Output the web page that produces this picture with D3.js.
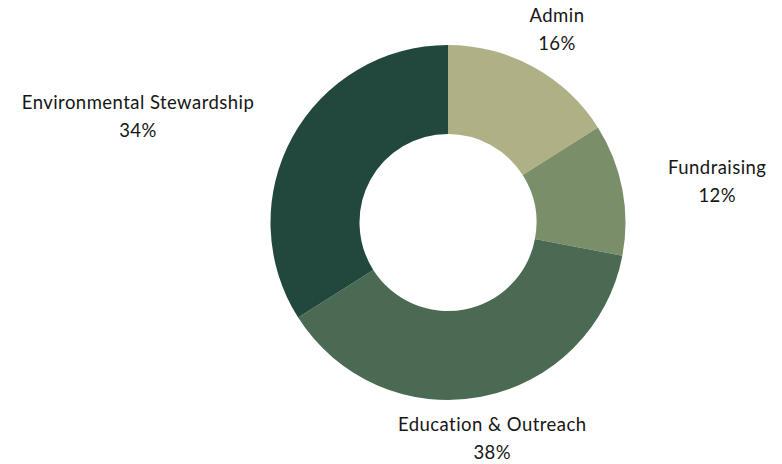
<!DOCTYPE html>
<html>
<head>
<meta charset="utf-8">
<script src="https://cdn.jsdelivr.net/npm/d3@7"></script>
<style>
  html, body { margin: 0; padding: 0; background: #ffffff; }
  svg { display: block; }
  text { font-family: "Lato", "Open Sans", sans-serif; fill: #161616; }
</style>
</head>
<body>
<svg id="chart" width="782" height="464"></svg>
<script>
const categories = ["Admin", "Fundraising", "Education & Outreach", "Environmental Stewardship"];
const values = [16, 12, 38, 34];
const colors = ["#b0b087", "#7b8e6a", "#4b6a53", "#22473d"];

const width = 782, height = 464;
const cx = 448, cy = 222.5;
const outerR = 177.5, innerR = 88.5, labelR = 220;

const svg = d3.select("#chart");
const g = svg.append("g").attr("transform", `translate(${cx},${cy})`);

const data = categories.map((c, i) => ({ name: c, value: values[i], color: colors[i] }));
const pie = d3.pie().value(d => d.value).sort(null);
const arc = d3.arc().innerRadius(innerR).outerRadius(outerR);
const arcs = pie(data);

g.selectAll("path.slice")
  .data(arcs)
  .join("path")
  .attr("class", "slice")
  .attr("d", arc)
  .attr("fill", d => d.data.color);

const total = d3.sum(values);
const fmt = v => Math.round(v / total * 100) + "%";

const labels = g.selectAll("g.lbl")
  .data(arcs)
  .join("g")
  .attr("class", "lbl");

labels.each(function(d) {
  const a = (d.startAngle + d.endAngle) / 2;
  const px = labelR * Math.sin(a);
  const py = -labelR * Math.cos(a);
  const sel = d3.select(this);
  const t = sel.append("text")
    .attr("font-size", 18.5)
    .attr("font-weight", 400)
    .attr("letter-spacing", 0.45)
    .attr("text-anchor", "middle");
  t.append("tspan").attr("x", 0).attr("y", py - 7.5).text(d.data.name);
  t.append("tspan").attr("x", 0).attr("y", py + 20.5).text(fmt(d.data.value));
  const w = t.node().getBBox().width;
  const s = Math.sin(a);
  let bx;
  if (s > 0.7) bx = px + 4 + w / 2;
  else if (s < -0.7) bx = px - 1 - w / 2;
  else bx = px + 3;
  t.selectAll("tspan").attr("x", bx);
});
</script>
</body>
</html>
